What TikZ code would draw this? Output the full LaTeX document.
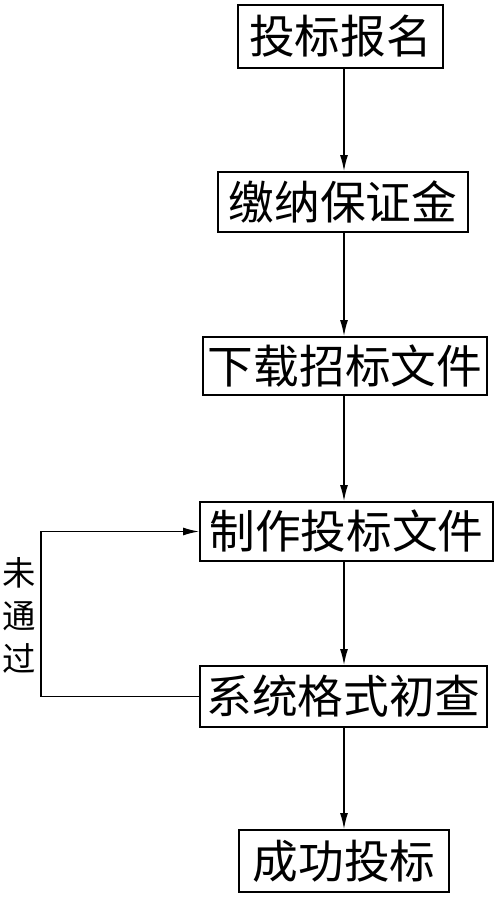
\documentclass[tikz,border=0pt]{standalone}
\usepackage{fontspec}
\newfontfamily\cjk{Noto Sans CJK SC}
\usepackage{tikz}
\usetikzlibrary{arrows.meta}
\tikzset{>={Latex[length=3.2mm,width=1.6mm]}}
\tikzset{
  stage/.style={draw,line width=1.1pt,inner sep=0pt,font=\cjk\fontsize{26}{30}\selectfont},
  flow/.style={->,line width=0.8pt}
}

\begin{document}
\begin{tikzpicture}[x=0.02cm,y=-0.02cm]
\useasboundingbox (0,0) rectangle (500,898);

% Boxes
\node[stage,minimum width=205*0.02cm,minimum height=63*0.02cm] (sign) at (340.5,36.5) {投标报名};
\node[stage,minimum width=250*0.02cm,minimum height=60*0.02cm] (deposit) at (343,202) {缴纳保证金};
\node[stage,minimum width=284*0.02cm,minimum height=58*0.02cm] (download) at (345,366) {下载招标文件};
\node[stage,minimum width=293*0.02cm,minimum height=59*0.02cm] (make) at (346.5,531.5) {制作投标文件};
\node[stage,minimum width=287*0.02cm,minimum height=61*0.02cm] (check) at (343.5,696.5) {系统格式初查};
\node[stage,minimum width=210*0.02cm,minimum height=62*0.02cm] (done) at (344,861) {成功投标};

% Arrows
\coordinate (col) at (344,0);
\draw[flow] (col |- sign.south) -- (col |- deposit.north);
\draw[flow] (col |- deposit.south) -- (col |- download.north);
\draw[flow] (col |- download.south) -- (col |- make.north);
\draw[flow] (col |- make.south) -- (col |- check.north);
\draw[flow] (col |- check.south) -- (col |- done.north);

% Back loop
\coordinate (back) at (41,0);
\draw[flow] (check.west) -- (back |- check.west) -- (back |- make.west) -- (make.west);
\node[font=\cjk\fontsize{19}{24.5}\selectfont,align=center] (fail) at (19,615) {未\\通\\过};

\end{tikzpicture}
\end{document}
